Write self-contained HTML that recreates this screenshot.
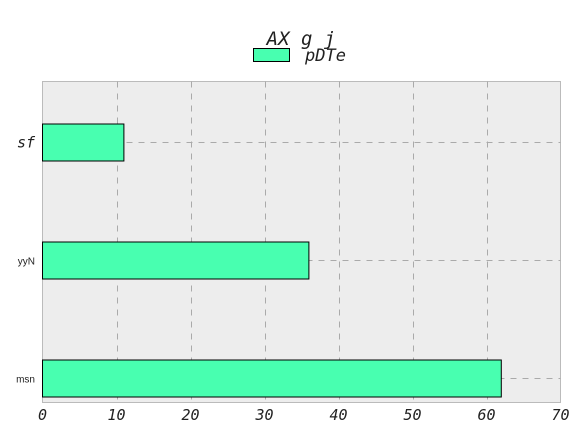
<!DOCTYPE html>
<html><head><meta charset="utf-8"><style>
body{margin:0;background:#fff;}
svg{display:block;}
</style></head><body>
<svg id="chart" width="584" height="438" xmlns="http://www.w3.org/2000/svg">
<text x="301" y="45" text-anchor="middle" font-family="DejaVu Sans Mono, monospace" font-style="italic" font-size="19" fill="#222">AX g j</text>
<rect x="253.5" y="48.5" width="36" height="13" fill="#48ffb0" stroke="#000" stroke-width="1"/>
<text x="305" y="61" font-family="DejaVu Sans Mono, monospace" font-style="italic" font-size="17" fill="#222">pDTe</text>
<rect x="42.5" y="81.5" width="518" height="321" fill="#ededed" stroke="#bbb" stroke-width="1"/>
<g id="grid"></g><g id="bars"></g><g id="xticks"></g><g id="yticks"></g>
</svg>
<script>
const categories = ["sf", "yyN", "msn"];
const values = [11, 36, 62];
const xTicks = [0, 10, 20, 30, 40, 50, 60, 70];
const NS = "http://www.w3.org/2000/svg";
const L = 42.5, R = 560.5, T = 81.5, B = 402.5;
function xs(v){ return L + (v - 0) / 70 * (R - L); }
function ys(i){ return 142.5 + i * 118; }
function mk(tag, attrs, parent){ const e = document.createElementNS(NS, tag); for (const k in attrs) e.setAttribute(k, attrs[k]); parent.appendChild(e); return e; }
const grid = document.getElementById("grid"), bars = document.getElementById("bars"), xt = document.getElementById("xticks"), yt = document.getElementById("yticks");
xTicks.forEach(t => {
  const x = Math.round(xs(t)) + 0.5;
  if (t > 0 && t < 70) {
    const g = mk("line", {x1: x, x2: x, y1: T, y2: B, stroke: "#aaa", "stroke-dasharray": "6,6", "stroke-width": 1}, grid);
    
    
  }
  const lb = mk("text", {x: xs(t), y: 420, "text-anchor": "middle", "font-family": "DejaVu Sans Mono, monospace", "font-style": "italic", "font-size": 15, fill: "#222"}, xt);
  lb.textContent = t;
  
  
});
categories.forEach((c, i) => {
  const y = ys(i);
  const g = mk("line", {x1: L, x2: R, y1: y, y2: y, stroke: "#aaa", "stroke-dasharray": "6,6", "stroke-width": 1}, grid);
  
  
  const b = mk("rect", {x: L, y: y - 18.5, width: xs(values[i]) - L, height: 37, fill: "#48ffb0", stroke: "#000", "stroke-width": 1}, bars);
  
  
  const big = i === 0;
  const lb = mk("text", {x: 35, y: y + (big ? 5 : 4), "text-anchor": "end", "font-family": big ? "DejaVu Sans Mono, monospace" : "Liberation Sans, sans-serif", "font-style": big ? "italic" : "normal", "font-size": big ? 15 : 10, fill: "#222"}, yt);
  lb.textContent = c;
  
  
});
</script>
</body></html>
